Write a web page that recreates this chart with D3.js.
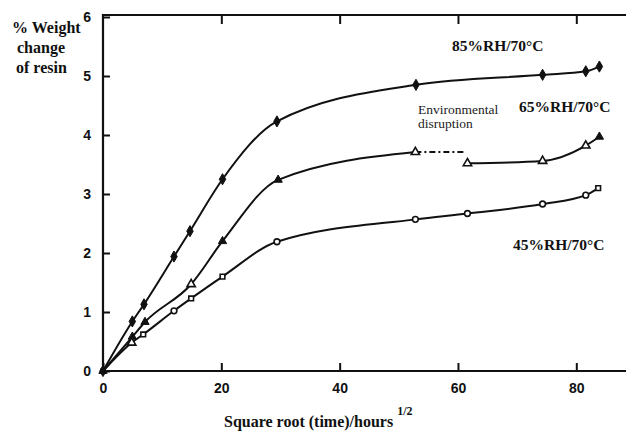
<!DOCTYPE html>
<html><head><meta charset="utf-8">
<script src="https://cdn.jsdelivr.net/npm/d3@7"></script>
<style>body{margin:0;background:#fff}svg{display:block}</style>
</head><body>
<script>
// Data
const xTicks = [0, 20, 40, 60, 80];
const yTicks = [0, 1, 2, 3, 4, 5, 6];

const x85 = [0, 4.96, 6.93, 12.0, 14.7, 20.2, 29.4, 52.9, 74.3, 81.6, 83.9];
const y85 = [0, 0.84, 1.13, 1.94, 2.37, 3.25, 4.23, 4.85, 5.02, 5.08, 5.16];

const x65a = [0, 4.96, 7.1, 14.9, 20.2, 29.6, 52.8];
const y65a = [0, 0.58, 0.83, 1.47, 2.2, 3.24, 3.71];
const f65a = [1, 1, 1, 0, 1, 1, 0];
const x65b = [61.6, 74.3, 81.6, 83.9];
const y65b = [3.52, 3.56, 3.82, 3.97];
const f65b = [0, 0, 0, 1];
const gapX = [52.8, 61.2];
const gapY = [3.71, 3.71];

const x45 = [0, 4.85, 6.8, 12.0, 14.9, 20.2, 29.4, 52.8, 61.6, 74.3, 81.6, 83.7];
const y45 = [0, 0.48, 0.62, 1.02, 1.23, 1.6, 2.19, 2.57, 2.67, 2.83, 2.98, 3.10];
const s45 = ["sq", "tri", "sq", "ci", "sq", "sq", "ci", "ci", "ci", "ci", "ci", "sq"];

const W = 626, H = 433;
const svg = d3.select("body").append("svg").attr("width", W).attr("height", H);

const x = d3.scaleLinear().domain([0, 88.4]).range([103, 626]);
const y = d3.scaleLinear().domain([0, 6]).range([371, 17]);

// axes
const axisG = svg.append("g");
axisG.append("g").attr("transform", `translate(0,${y(0)})`)
  .call(d3.axisBottom(x).tickValues(xTicks).tickSize(-8).tickPadding(12).tickFormat(d3.format("d")));
axisG.append("g").attr("transform", `translate(0,15)`)
  .call(d3.axisTop(x).tickValues(xTicks.slice(1)).tickSize(-9).tickFormat(""));
axisG.append("g").attr("transform", `translate(${x(0)},0)`)
  .call(d3.axisLeft(y).tickValues(yTicks).tickSize(-7).tickPadding(12).tickFormat(d3.format("d")));
axisG.selectAll(".domain").remove();
axisG.selectAll("line").attr("stroke", "#111").attr("stroke-width", 2);
axisG.selectAll("text").attr("font-family", "Liberation Sans, Arial, sans-serif")
  .attr("font-weight", "bold").attr("font-size", 14).attr("fill", "#111");
svg.append("line").attr("x1", x(0)).attr("x2", W).attr("y1", y(0)).attr("y2", y(0)).attr("stroke", "#111").attr("stroke-width", 2.2);
svg.append("line").attr("x1", x(0)).attr("x2", W).attr("y1", 15).attr("y2", 15).attr("stroke", "#111").attr("stroke-width", 2.2);
svg.append("line").attr("x1", x(0)).attr("x2", x(0)).attr("y1", 14).attr("y2", y(0) + 1).attr("stroke", "#111").attr("stroke-width", 2.2);

const line = d3.line().x(d => x(d[0])).y(d => y(d[1])).curve(d3.curveMonotoneX);
function draw(xs, ys) {
  svg.append("path").datum(d3.zip(xs, ys)).attr("d", line)
    .attr("fill", "none").attr("stroke", "#111").attr("stroke-width", 2);
}
draw(x85, y85);
draw(x65a, y65a);
draw(x65b, y65b);
svg.append("path").datum(d3.zip(gapX, gapY)).attr("d", d3.line().x(d => x(d[0])).y(d => y(d[1])))
  .attr("fill", "none").attr("stroke", "#111").attr("stroke-width", 2).attr("stroke-dasharray", "6,3,2,3");
draw(x45, y45);

const sym = {
  dia: d3.symbol().type(d3.symbolDiamond).size(36),
  tri: d3.symbol().type(d3.symbolTriangle).size(30),
  sq: d3.symbol().type(d3.symbolSquare).size(22),
  ci: d3.symbol().type(d3.symbolCircle).size(26)
};
function marks(xs, ys, shapes, fills) {
  xs.forEach((v, i) => {
    const f = fills[i];
    svg.append("path").attr("d", sym[shapes[i]]())
      .attr("transform", `translate(${x(v)},${y(ys[i])})`)
      .attr("fill", f ? "#111" : "#fff").attr("stroke", "#111").attr("stroke-width", f ? 1 : 1.6);
  });
}
marks(x85, y85, x85.map(() => "dia"), x85.map(() => 1));
marks(x65a, y65a, x65a.map(() => "tri"), f65a);
marks(x65b, y65b, x65b.map(() => "tri"), f65b);
marks(x45, y45, s45, x45.map((d, i) => i === 0 ? 1 : 0));

// texts
const serif = "Liberation Serif, Times New Roman, serif";
const yl = svg.append("text").attr("font-family", serif).attr("font-weight", "bold").attr("font-size", 16).attr("fill", "#111");
yl.append("tspan").attr("x", 12).attr("y", 33).text("% Weight");
yl.append("tspan").attr("x", 17).attr("y", 53).text("change");
yl.append("tspan").attr("x", 16).attr("y", 73).text("of resin");

const xl = svg.append("text").attr("x", 224).attr("y", 427).attr("font-family", serif)
  .attr("font-weight", "bold").attr("font-size", 16).attr("fill", "#111");
xl.append("tspan").text("Square root (time)/hours");
xl.append("tspan").attr("dx", 4).attr("dy", -12).attr("font-size", 12).text("1/2");

function lab(t, xx, yy) {
  svg.append("text").attr("x", xx).attr("y", yy).attr("font-family", serif)
    .attr("font-weight", "bold").attr("font-size", 15.5).attr("fill", "#111").text(t);
}
lab("85%RH/70°C", 452, 51);
lab("65%RH/70°C", 519, 112);
lab("45%RH/70°C", 513, 250);

const en = svg.append("text").attr("font-family", serif).attr("font-size", 13.5).attr("fill", "#222");
en.append("tspan").attr("x", 418).attr("y", 114).text("Environmental");
en.append("tspan").attr("x", 418).attr("y", 128).text("disruption");
</script>
</body></html>
